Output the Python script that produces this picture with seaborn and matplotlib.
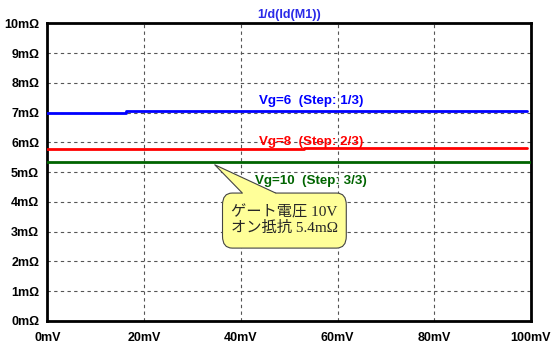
import matplotlib
matplotlib.use("Agg")
import matplotlib.pyplot as plt
import seaborn as sns
import pandas as pd
from matplotlib.patches import FancyBboxPatch, Polygon
from matplotlib.lines import Line2D

# ---- data ----
vg6_x = [0, 16.2, 81.2, 99.1]
vg6_y = [7.00, 7.045, 7.07, 7.07]
vg8_x = [0, 53.1, 99.1]
vg8_y = [5.77, 5.80, 5.80]
vg10_x = [0, 100]
vg10_y = [5.34, 5.34]
series_names = ["Vg=6  (Step: 1/3)", "Vg=8  (Step: 2/3)", "Vg=10  (Step: 3/3)"]
series_colors = ["#0000ff", "#ff0000", "#006400"]
x_ticks = [0, 20, 40, 60, 80, 100]
x_labels = ["0mV", "20mV", "40mV", "60mV", "80mV", "100mV"]
y_ticks = list(range(0, 11))
y_labels = [f"{v}mΩ" for v in y_ticks]
title = "1/d(Id(M1))"
note_lines = ["ゲート電圧 10V", "オン抵抗 5.4mΩ"]

sns.set_style("white")
plt.rcParams['font.family'] = ['Liberation Sans', 'DejaVu Sans']

df = pd.concat([
    pd.DataFrame({"x": vg6_x, "y": vg6_y, "s": series_names[0]}),
    pd.DataFrame({"x": vg8_x, "y": vg8_y, "s": series_names[1]}),
    pd.DataFrame({"x": vg10_x, "y": vg10_y, "s": series_names[2]}),
])

fig = plt.figure(figsize=(5.56, 3.48), dpi=100)
ax = fig.add_axes([0.0854, 0.0776, 0.8696, 0.855])

sns.lineplot(data=df, x="x", y="y", hue="s", palette=dict(zip(series_names, series_colors)),
             drawstyle="steps-post", linewidth=2, legend=False, ax=ax, sort=False,
             estimator=None, zorder=3)

ax.set_xlim(0, 100)
ax.set_ylim(0, 10)
ax.set_xticks(x_ticks)
ax.set_xticklabels(x_labels, fontsize=9, fontweight="bold")
ax.set_yticks(y_ticks)
ax.set_yticklabels(y_labels, fontsize=9, fontweight="bold")
ax.set_xlabel("")
ax.set_ylabel("")
ax.tick_params(axis="both", direction="out", length=4, width=2, pad=2, colors="black")
ax.tick_params(axis="x", pad=4)
ax.grid(True, linestyle=(0, (3, 3)), color="#555555", linewidth=0.8)
for sp in ax.spines.values():
    sp.set_linewidth(2)
    sp.set_color("black")

ax.set_title(title, fontsize=9, fontweight="bold", color="#2a2ae8", pad=4)

# series labels
label_y = [7.39, 6.02, 4.69]
for name, c, ly in zip(series_names, series_colors, label_y):
    ax.text(54.5, ly, name, color=c, fontsize=9.6, fontweight="bold",
            ha="center", va="center", zorder=4)

# callout
box = FancyBboxPatch((36.2, 2.45), 25.6, 1.85,
                     boxstyle="round,pad=0,rounding_size=2.0",
                     mutation_aspect=0.2,
                     facecolor="#ffff99", edgecolor="#444444", linewidth=0.8, zorder=5)
ax.add_patch(box)
tip = (34.6, 5.25)
bl = (40.3, 4.30)
br = (47.2, 4.30)
ax.add_patch(Polygon([bl, tip, br, (br[0], 4.2), (bl[0], 4.2)], closed=True,
                     facecolor="#ffff99", edgecolor="none", zorder=6))
ax.add_line(Line2D([bl[0], tip[0], br[0]], [bl[1], tip[1], br[1]],
                   color="#444444", linewidth=0.8, zorder=7))
ax.text(49.0, 3.38, "\n".join(note_lines), fontsize=11, ha="center", va="center",
        linespacing=1.1, family=["Liberation Serif", "Noto Sans CJK JP"], zorder=8)

fig.savefig("out.png", dpi=100)
